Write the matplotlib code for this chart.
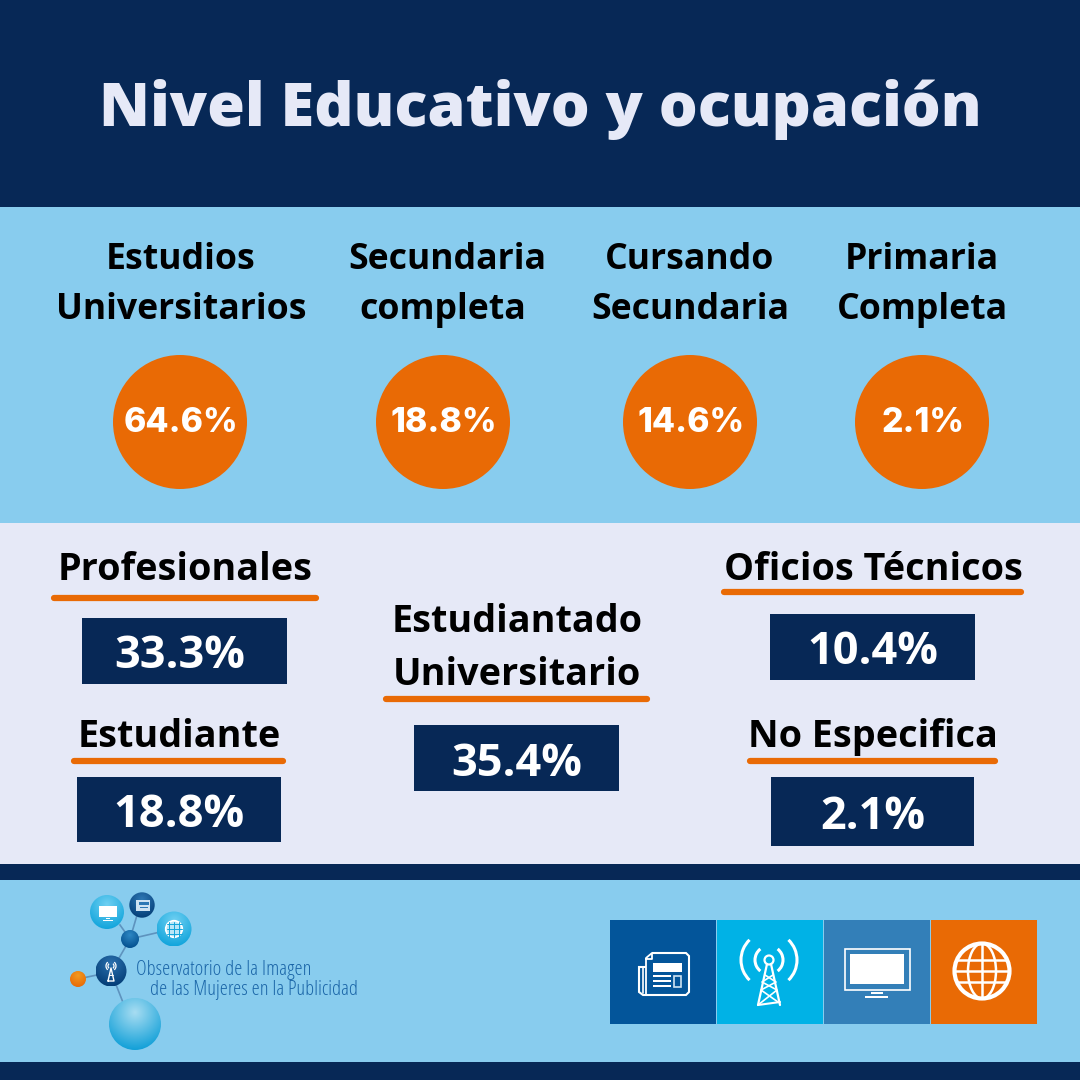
import numpy as np
import matplotlib
matplotlib.use('Agg')
from matplotlib import pyplot as plt
from matplotlib.patches import Rectangle, Circle, Arc, Polygon

NAVY = '#072856'
SKY = '#88CCEE'
PALE = '#E6E9F7'
ORANGE = '#E96A05'

title = 'Nivel Educativo y ocupación'

edu_labels = ['Estudios\nUniversitarios', 'Secundaria\ncompleta', 'Cursando\nSecundaria', 'Primaria\nCompleta']
edu_values = [64.6, 18.8, 14.6, 2.1]

job_labels = ['Profesionales', 'Estudiante', 'Estudiantado\nUniversitario', 'Oficios Técnicos', 'No Especifica']
job_values = [33.3, 18.8, 35.4, 10.4, 2.1]

logo_lines = ['Observatorio de la Imagen', 'de las Mujeres en la Publicidad']

edu_label_x = [181, 447, 690, 922]
edu_label2_x = [181, 443, 690, 922]
circle_x = [180, 443, 690, 922]

# label x, label y, underline x0, x1, underline y, box x0, x1, y0, y1, value x
job_layout = [
    (185, 567, 52, 318, 598, 82, 287, 618, 684, 180),
    (179, 734, 72, 285, 761, 77, 281, 777, 842, 179),
    (517, 645, 384, 649, 699, 414, 619, 725, 791, 516.5),
    (873, 567, 722, 1023, 592, 770, 975, 614, 680, 873),
    (873, 734, 748, 997, 761, 771, 974, 777, 846, 872.5),
]

fig = plt.figure(figsize=(10.8, 10.8), dpi=100)
ax = fig.add_axes([0, 0, 1, 1])
ax.set_xlim(0, 1080)
ax.set_ylim(1080, 0)
ax.axis('off')


def rect(x0, y0, x1, y1, color, z=1):
    ax.add_patch(Rectangle((x0, y0), x1 - x0, y1 - y0, fc=color, ec='none', zorder=z))


def sphere(cx, cy, r, inner, outer):
    # radial shading, brighter toward the upper part
    yy, xx = np.mgrid[-1:1:120j, -1:1:120j]
    d = np.clip(np.hypot(xx, yy + 0.45) / 1.45, 0, 1)[..., None]
    rgb = np.array(matplotlib.colors.to_rgb(inner)) * (1 - d) + np.array(matplotlib.colors.to_rgb(outer)) * d
    im = ax.imshow(rgb, extent=(cx - r, cx + r, cy + r, cy - r), zorder=4, interpolation='bilinear', aspect='auto')
    clip = Circle((cx, cy), r, transform=ax.transData)
    im.set_clip_path(clip)


def line(xs, ys, lw=1.5, color='white', z=5):
    ax.plot(xs, ys, color=color, lw=lw, zorder=z, solid_capstyle='round')


# bands
rect(0, 0, 1080, 207, NAVY)
rect(0, 207, 1080, 523, SKY)
rect(0, 523, 1080, 864, PALE)
rect(0, 864, 1080, 880, NAVY)
rect(0, 880, 1080, 1062, SKY)
rect(0, 1062, 1080, 1080, NAVY)

ax.text(540, 103, title, color=PALE, fontsize=44, fontweight=800, family='Open Sans',
        ha='center', va='center_baseline', zorder=5)

# education row
for x, x2, cx, lab, val in zip(edu_label_x, edu_label2_x, circle_x, edu_labels, edu_values):
    l1, l2 = lab.split('\n')
    ax.text(x, 269, l1, fontsize=25.7, fontweight='bold', family='Open Sans', color='black', ha='center', va='baseline', zorder=5)
    ax.text(x2, 319, l2, fontsize=25.7, fontweight='bold', family='Open Sans', color='black', ha='center', va='baseline', zorder=5)
    ax.add_patch(Circle((cx, 422), 67, fc=ORANGE, ec='none', zorder=3))
    ax.text(cx + 1, 420, '%.1f%%' % val, fontsize=24.3, fontweight=800, family='Inter', color='white',
            ha='center', va='center_baseline', zorder=5)

# occupation blocks
for lab, val, (lx, ly, u0, u1, uy, b0, b1, t0, t1, vx) in zip(job_labels, job_values, job_layout):
    parts = lab.split('\n')
    if len(parts) == 2:
        ax.text(lx, 632, parts[0], fontsize=27.2, fontweight='bold', family='Open Sans', color='black', ha='center', va='baseline', zorder=5)
        ax.text(lx, 685, parts[1], fontsize=27.2, fontweight='bold', family='Open Sans', color='black', ha='center', va='baseline', zorder=5)
    else:
        ax.text(lx, ly + 13, lab, fontsize=27.2, fontweight='bold', family='Open Sans', color='black', ha='center', va='baseline', zorder=5)
    ax.plot([u0 + 2, u1 - 2], [uy, uy], color=ORANGE, lw=4.5, solid_capstyle='round', zorder=4)
    rect(b0, t0, b1, t1, NAVY, 3)
    ax.text(vx, (t0 + t1) / 2 + 0.5, '%.1f%%' % val, fontsize=32.5, fontweight='bold', family='Open Sans',
            color='white', ha='center', va='center_baseline', zorder=5)

# logo connectors
for x0, y0, x1, y1 in [(130, 939, 120, 925), (130, 939, 140, 905), (130, 939, 173, 929), (130, 939, 111, 972),
                       (111, 972, 78, 979), (111, 972, 126, 1010)]:
    ax.plot([x0, x1], [y0, y1], color='#5E93BE', lw=1.2, zorder=3)
sphere(107, 912, 17, '#6FD0F2', '#12A5DC')
sphere(142, 905, 12.7, '#2E78B4', '#053F78')
sphere(174, 929, 17.5, '#70D0F2', '#12A5DC')
sphere(130, 939, 9, '#2E88C4', '#04508F')
sphere(111, 971, 15.5, '#2A70AE', '#053F78')
sphere(78, 979, 8, '#F29A20', '#E86A05')
sphere(135, 1024, 26, '#A8DDF2', '#12A0D8')

# small logo glyphs
rect(99, 906, 117, 917, 'white', 6)
rect(106, 918, 110, 919, 'white', 6)
rect(103, 919.5, 113, 920.5, 'white', 6)
rect(136, 900, 150, 911, '#CFE3F2', 6)
rect(139, 902, 149, 905, '#2E78B4', 7)
rect(140, 906.5, 148, 907.5, '#2E78B4', 7)
ax.add_patch(Circle((174, 929), 8.3, fc='#B9E6F7', ec='white', lw=1.2, zorder=6))
for off in [-5, 0, 5]:
    line([166.5, 181.5], [929 + off, 929 + off], 0.7, '#12A5DC', 7)
    line([174 + off, 174 + off], [921.5, 936.5], 0.7, '#12A5DC', 7)
line([108, 111, 114, 108], [981, 968, 981, 981], 1)
line([109, 113], [975, 975], 0.7)
for r in [6, 10]:
    ax.add_patch(Arc((111, 966), r, r, theta1=130, theta2=230, color='white', lw=0.9, zorder=6))
    ax.add_patch(Arc((111, 966), r, r, theta1=-50, theta2=50, color='white', lw=0.9, zorder=6))

ax.text(136, 967, logo_lines[0], fontsize=14.8, family='Open Sans', stretch='condensed', color='#1B66A8', ha='left', va='center_baseline', zorder=5)
ax.text(150, 987, logo_lines[1], fontsize=14.8, family='Open Sans', stretch='condensed', color='#1B66A8', ha='left', va='center_baseline', zorder=5)

# media tiles
rect(610, 920, 716, 1024, '#03559A', 2)
rect(716.5, 920, 823, 1024, '#00B2E6', 2)
rect(823.5, 920, 930, 1024, '#337FB8', 2)
rect(930.5, 920, 1037, 1024, ORANGE, 2)

# newspaper
ax.add_patch(Polygon([(652, 953), (686, 953), (689, 956), (689, 992), (686, 995), (643, 995), (639, 992), (639, 967), (646, 967)],
                     closed=False, fc='none', ec='white', lw=1.5, zorder=5))
line([646, 646, 652, 652, 646], [995, 958, 953, 959, 959], 1.3)
line([642.5, 642.5], [967, 993], 1.2)
rect(653, 963, 682, 972, 'white', 5)
for yy in [976, 981, 986]:
    rect(653, yy - 1, 671, yy + 1, 'white', 5)
ax.add_patch(Rectangle((674, 976), 7, 11, fc='none', ec='#CFE3F2', lw=1.2, zorder=5))

# tower
ax.add_patch(Circle((769, 960), 4.5, fc='none', ec='white', lw=1.6, zorder=5))
line([758, 767], [1005, 964], 1.6)
line([780, 771], [1005, 964], 1.6)
line([758, 780], [1005, 1002], 1.5)
line([765, 776, 761, 778], [975, 982, 990, 1002], 1.2)
line([773, 762, 777, 758], [975, 982, 990, 1005], 1.2)
for d, a in [(28, 52), (56, 46)]:
    ax.add_patch(Arc((769, 960), d, d, theta1=-a, theta2=a, color='white', lw=2.2, zorder=5))
    ax.add_patch(Arc((769, 960), d, d, theta1=180 - a, theta2=180 + a, color='white', lw=2.2, zorder=5))

# screen
ax.add_patch(Rectangle((844.5, 948.5), 65, 41.5, fc='none', ec='white', lw=1.2, zorder=5))
rect(850, 954, 904, 984, 'white', 5)
rect(871, 992, 883, 994, 'white', 5)
rect(865, 996, 888, 998, 'white', 5)

# globe
ax.add_patch(Circle((982, 971), 27.5, fc='none', ec='white', lw=3, zorder=5))
ax.add_patch(Arc((982, 971), 28, 55, color='white', lw=1.8, zorder=5))
line([982, 982], [944, 998], 1.8)
line([955, 1009], [971, 971], 1.8)
line([957, 1007], [960, 960], 1.8)
line([957, 1007], [982, 982], 1.8)

ax.set_xlim(0, 1080)
ax.set_ylim(1080, 0)
fig.savefig('out.png', dpi=100)
